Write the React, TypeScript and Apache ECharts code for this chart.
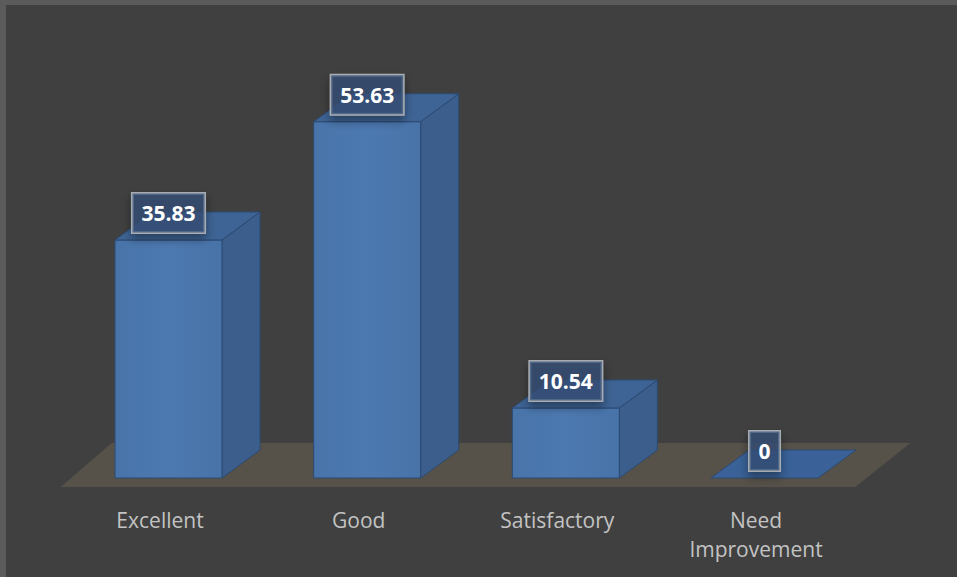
import React, { useEffect, useRef } from "react";
import * as echarts from "echarts";

const categories = ["Excellent", "Good", "Satisfactory", "Need Improvement"];
const values = [35.83, 53.63, 10.54, 0];

const FONT = "'Open Sans', 'Noto Sans', sans-serif";

export default function App() {
  const ref = useRef<HTMLDivElement>(null);
  useEffect(() => {
    if (!ref.current) return;
    const chart = echarts.init(ref.current, null, { renderer: "svg" });

    const FRONT_L = -45;
    const FRONT_R = 62;
    const DX = 38;
    const DY = -28;

    const renderBar = (params: any, api: any) => {
      const idx = api.value(0);
      const val = api.value(1);
      const base = api.coord([idx, 0]);
      const top = api.coord([idx, val]);
      const cx = base[0];
      const L = cx + FRONT_L;
      const R = cx + FRONT_R;
      const by = base[1];
      const ty = top[1];
      const edge = "#2c4a72";
      const children: any[] = [];
      if (by - ty > 0.5) {
        children.push({
          type: "polygon",
          shape: { points: [[R, by], [R + DX, by + DY], [R + DX, ty + DY], [R, ty]] },
          style: { fill: "#3b5e8c", stroke: edge, lineWidth: 1 },
        });
        children.push({
          type: "rect",
          shape: { x: L, y: ty, width: R - L, height: by - ty },
          style: {
            fill: new echarts.graphic.LinearGradient(0, 0, 1, 0, [
              { offset: 0, color: "#4874aa" },
              { offset: 0.5, color: "#4c79b0" },
              { offset: 1, color: "#4873a9" },
            ]),
            stroke: edge,
            lineWidth: 1,
          },
        });
      }
      children.push({
        type: "polygon",
        shape: { points: [[L, ty], [L + DX, ty + DY], [R + DX, ty + DY], [R, ty]] },
        style: { fill: by - ty > 0.5 ? "#3e6495" : "#3a6298", stroke: edge, lineWidth: 1 },
      });
      children.push({
        type: "text",
        z2: 100,
        style: {
          text: String(values[params.dataIndex]),
          x: cx + (FRONT_L + FRONT_R) / 2,
          y: ty + DY + 1,
          align: "center",
          verticalAlign: "middle",
          fill: "#ffffff",
          font: `bold 21px ${FONT}`,
          lineHeight: 27,
          padding: [6, 9],
          backgroundColor: "rgba(52,80,120,0.75)",
          borderColor: "#a9adb3",
          borderWidth: 1.5,
          shadowBlur: 10,
          shadowColor: "rgba(0,0,0,0.45)",
          shadowOffsetY: 5,
        },
      });
      return { type: "group", children };
    };

    const renderFloor = (params: any) => {
      const cs = params.coordSys;
      const fy = cs.y + cs.height + 9;
      const left = cs.x;
      const right = cs.x + cs.width;
      return {
        type: "polygon",
        shape: { points: [[left, fy], [right, fy], [right + 55, fy - 44], [left + 51, fy - 44]] },
        style: { fill: "#56524a" },
      };
    };

    chart.setOption({
      animation: false,
      backgroundColor: "#404040",
      grid: { left: 54.67, width: 794.67, top: 74.4, bottom: 99 },
      xAxis: {
        type: "category",
        data: categories,
        axisLine: { show: false },
        axisTick: { show: false },
        splitLine: { show: false },
        axisLabel: {
          color: "#c3c3c3",
          fontFamily: FONT,
          fontSize: 21,
          lineHeight: 29,
          margin: 27,
          interval: 0,
          formatter: (v: string) => v.replace(" ", "\n"),
        },
      },
      yAxis: {
        type: "value",
        min: 0,
        max: 60,
        show: false,
      },
      series: [
        {
          type: "custom",
          renderItem: renderFloor,
          data: [[0, 0]],
          silent: true,
          z: 1,
        },
        {
          type: "custom",
          renderItem: renderBar,
          data: categories.map((c, i) => [i, values[i]]),
          z: 2,
        },
      ],
    });
    return () => chart.dispose();
  }, []);

  return (
    <div style={{ position: "absolute", left: 0, top: 0, width: 957, height: 577, background: "#5b5b5b" }}>
      <div ref={ref} style={{ position: "absolute", left: 6, top: 5, width: 951, height: 572 }} />
    </div>
  );
}
